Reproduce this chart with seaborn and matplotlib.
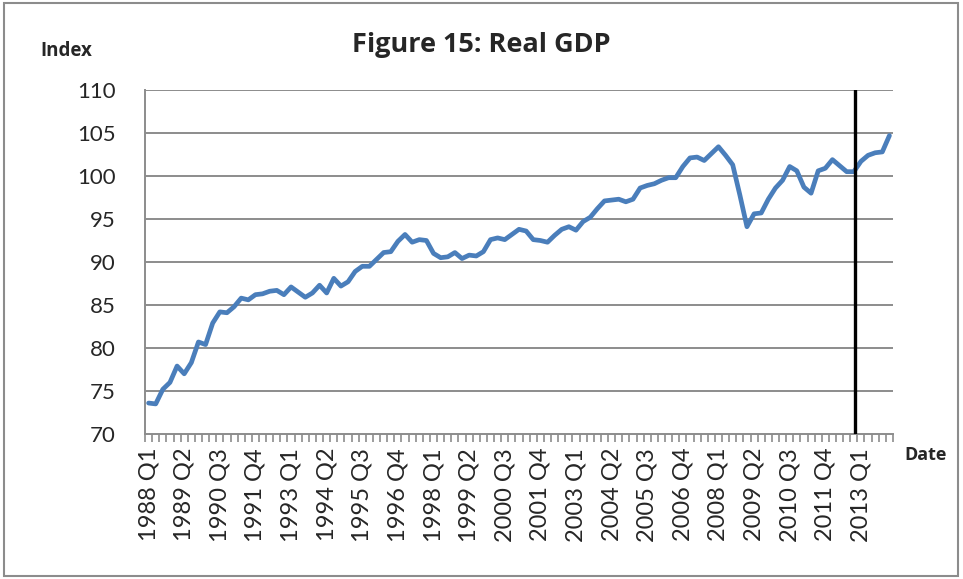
import numpy as np
import pandas as pd
import seaborn as sns
import matplotlib.pyplot as plt
from matplotlib.patches import Rectangle
from matplotlib.ticker import FixedLocator

# Real GDP index, quarterly 1988 Q1 - 2014 Q1
quarters = [f"{y} Q{q}" for y in range(1988, 2015) for q in range(1, 5)][:105]
gdp = [73.6, 73.5, 75.2, 76.0, 77.9, 77.0, 78.3, 80.7, 80.4, 82.9,
       84.2, 84.1, 84.8, 85.8, 85.6, 86.2, 86.3, 86.6, 86.7, 86.2,
       87.1, 86.5, 85.9, 86.4, 87.3, 86.4, 88.1, 87.2, 87.7, 88.9,
       89.5, 89.5, 90.3, 91.1, 91.2, 92.4, 93.2, 92.3, 92.6, 92.5,
       91.0, 90.5, 90.6, 91.1, 90.4, 90.8, 90.7, 91.2, 92.6, 92.8,
       92.6, 93.2, 93.8, 93.6, 92.6, 92.5, 92.3, 93.1, 93.8, 94.1,
       93.7, 94.7, 95.2, 96.2, 97.1, 97.2, 97.3, 97.0, 97.3, 98.6,
       98.9, 99.1, 99.5, 99.8, 99.8, 101.1, 102.1, 102.2, 101.8, 102.6,
       103.4, 102.4, 101.3, 97.8, 94.1, 95.6, 95.7, 97.3, 98.6, 99.5,
       101.1, 100.6, 98.7, 98.0, 100.6, 100.9, 101.9, 101.2, 100.5, 100.5,
       101.7, 102.4, 102.7, 102.8, 104.7]
tick_labels = ["1988 Q1", "1989 Q2", "1990 Q3", "1991 Q4", "1993 Q1",
               "1994 Q2", "1995 Q3", "1996 Q4", "1998 Q1", "1999 Q2",
               "2000 Q3", "2001 Q4", "2003 Q1", "2004 Q2", "2005 Q3",
               "2006 Q4", "2008 Q1", "2009 Q2", "2010 Q3", "2011 Q4",
               "2013 Q1"]
marker_pos = 99.2  # vertical marker line (just before 2013 Q1)

df = pd.DataFrame({"idx": np.arange(len(gdp)), "quarter": quarters, "gdp": gdp})

sns.set_style("white")
plt.rcParams['font.family'] = ['Lato', 'DejaVu Sans']
bold_font = ['Open Sans', 'DejaVu Sans']

fig = plt.figure(figsize=(9.63, 5.79), dpi=100)
ax = fig.add_axes([0.1506, 0.2504, 0.7767, 0.5942])

grid_c = '#8c8c8c'
for v in range(75, 111, 5):
    ax.axhline(v, color=grid_c, lw=1.4, zorder=0)

sns.lineplot(data=df, x="idx", y="gdp", ax=ax, color='#4a7ebb', lw=3.4, zorder=3)
ax.axvline(marker_pos, color='black', lw=2.4, zorder=4)

ax.set_xlim(-0.5, len(gdp) - 0.5)
ax.set_ylim(70, 110)
ax.set_yticks(range(70, 111, 5))
ax.tick_params(axis='y', labelsize=16, length=6, color=grid_c, width=1.4, pad=15)

pos = [quarters.index(t) for t in tick_labels]
ax.set_xticks(pos)
ax.set_xticklabels(tick_labels, rotation=90, fontsize=17)
ax.tick_params(axis='x', which='major', length=0, pad=10)
ax.xaxis.set_minor_locator(FixedLocator(np.arange(-0.5, len(gdp), 1)))
ax.tick_params(axis='x', which='minor', length=6, color=grid_c, width=1.2, direction='out', bottom=True)

for s in ['top', 'right']:
    ax.spines[s].set_visible(False)
for s in ['left', 'bottom']:
    ax.spines[s].set_color(grid_c)
    ax.spines[s].set_linewidth(1.4)
ax.set_xlabel("")
ax.set_ylabel("")

fig.text(0.4995, 0.922, "Figure 15: Real GDP", ha='center', va='center',
         fontsize=19.5, fontweight='bold', family=bold_font)
fig.text(0.069, 0.912, "Index", ha='center', va='center', fontsize=13.5,
         fontweight='bold', family=bold_font)
fig.text(0.961, 0.215, "Date", ha='center', va='center', fontsize=13,
         fontweight='bold', family=bold_font)

fig.patches.append(Rectangle((0.004, 0.006), 0.991, 0.988, transform=fig.transFigure,
                             fill=False, edgecolor='#8c8c8c', lw=1.5))

plt.savefig('out.png', dpi=100)
